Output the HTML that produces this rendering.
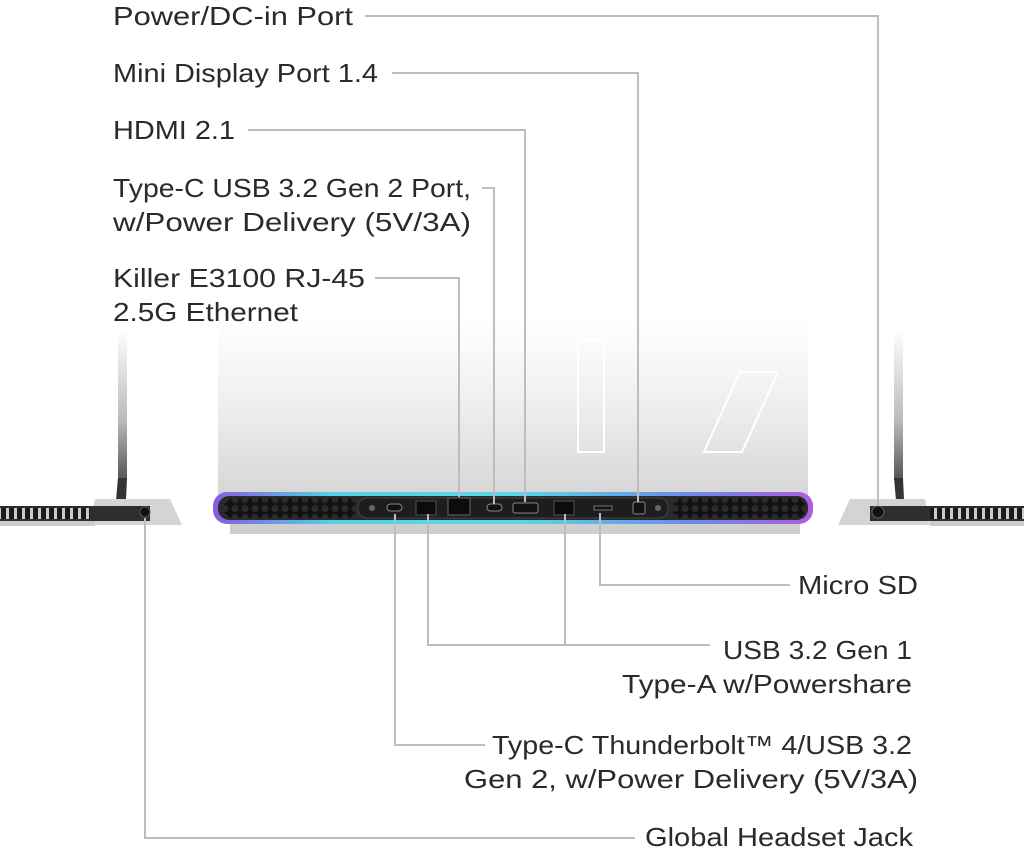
<!DOCTYPE html>
<html><head><meta charset="utf-8"><style>
html,body{margin:0;padding:0;background:#fff;width:1024px;height:849px;overflow:hidden}
svg{display:block}
text{font-family:"Liberation Sans",sans-serif;font-size:26px;fill:#2a2a2a}
</style></head><body>
<svg width="1024" height="849" viewBox="0 0 1024 849" xmlns="http://www.w3.org/2000/svg">
<defs>
<linearGradient id="lid" x1="0" y1="0" x2="0" y2="1">
<stop offset="0" stop-color="#fff"/><stop offset="0.5" stop-color="#eeeeee"/><stop offset="1" stop-color="#d6d6d6"/></linearGradient>
<linearGradient id="rim" x1="0" y1="0" x2="1" y2="0">
<stop offset="0" stop-color="#8a5be0"/><stop offset="0.2" stop-color="#4fd3e6"/><stop offset="0.5" stop-color="#5ad8e8"/><stop offset="0.8" stop-color="#6b8ae8"/><stop offset="1" stop-color="#b05ce0"/></linearGradient>
<linearGradient id="pole" x1="0" y1="0" x2="0" y2="1">
<stop offset="0" stop-color="#fff"/><stop offset="0.6" stop-color="#bbb"/><stop offset="1" stop-color="#555"/></linearGradient>
<pattern id="hex" width="10" height="9" patternUnits="userSpaceOnUse">
<rect width="10" height="9" fill="#111"/><circle cx="5" cy="4.5" r="3.6" fill="#2a2a2a"/></pattern>
<pattern id="slot" width="8" height="10" patternUnits="userSpaceOnUse">
<rect width="8" height="10" fill="#ccc"/><rect x="1" y="0" width="5" height="10" fill="#1a1a1a"/></pattern>
</defs>

<!-- lid -->
<rect x="218" y="318" width="590" height="178" fill="url(#lid)"/>
<polygon points="578,340 604,340 604,452 578,452" fill="none" stroke="#fff" stroke-width="2"/>
<polygon points="740,372 778,372 742,452 704,452" fill="none" stroke="#fff" stroke-width="2"/>
<!-- base bar -->
<rect x="213" y="492" width="600" height="32" rx="14" fill="url(#rim)"/>
<rect x="218" y="496" width="590" height="24" rx="11" fill="#2a2a2e"/>
<rect x="224" y="498" width="132" height="20" rx="8" fill="url(#hex)"/>
<rect x="673" y="498" width="132" height="20" rx="8" fill="url(#hex)"/>
<rect x="358" y="498" width="310" height="20" rx="9" fill="#1d1d20" stroke="#444" stroke-width="1"/>
<rect x="230" y="524" width="570" height="10" fill="#cfcfcf"/>
<!-- ports -->
<circle cx="372" cy="508" r="3" fill="#666"/>
<rect x="387" y="504" width="15" height="7" rx="3.5" fill="#111" stroke="#888"/>
<rect x="416" y="501" width="20" height="14" fill="#0c0c0c" stroke="#555"/>
<rect x="448" y="498" width="22" height="17" fill="#0c0c0c" stroke="#666"/>
<rect x="487" y="504" width="15" height="7" rx="3.5" fill="#111" stroke="#888"/>
<rect x="513" y="503" width="25" height="10" rx="2" fill="#111" stroke="#888"/>
<rect x="554" y="501" width="20" height="14" fill="#0c0c0c" stroke="#555"/>
<rect x="594" y="506" width="18" height="4" fill="#111" stroke="#777"/>
<rect x="633" y="502" width="12" height="12" rx="2" fill="#111" stroke="#888"/>
<circle cx="658" cy="508" r="3" fill="#666"/>

<!-- left side view -->
<rect x="118" y="330" width="9" height="150" fill="url(#pole)"/>
<polygon points="118,478 127,478 126,500 116,500" fill="#333"/>
<polygon points="95,499 170,499 182,525 90,525" fill="#d4d4d4"/>
<rect x="0" y="506" width="150" height="15" fill="#2e2e2e"/>
<rect x="0" y="508" width="90" height="11" fill="url(#slot)"/>
<rect x="0" y="521" width="95" height="5" fill="#ccc"/>
<circle cx="145" cy="512" r="5" fill="#111" stroke="#555"/>
<!-- right side view -->
<rect x="894" y="330" width="9" height="150" fill="url(#pole)"/>
<polygon points="894,478 903,478 904,500 896,500" fill="#333"/>
<polygon points="850,499 925,499 930,525 838,525" fill="#d4d4d4"/>
<rect x="870" y="506" width="154" height="15" fill="#2e2e2e"/>
<rect x="930" y="508" width="94" height="11" fill="url(#slot)"/>
<rect x="930" y="521" width="94" height="5" fill="#ccc"/>
<circle cx="878" cy="512" r="6" fill="#111" stroke="#666"/>

<!-- leader lines -->
<g fill="none" stroke="#bdbdbd" stroke-width="2">
<polyline points="365,16 878,16 878,506"/>
<polyline points="392,73 638,73 638,502"/>
<polyline points="248,130 525,130 525,502"/>
<polyline points="482,188 494,188 494,504"/>
<polyline points="375,278 459,278 459,497"/>
<polyline points="600,513 600,585 790,585"/>
<polyline points="428,514 428,645 710,645"/>
<polyline points="565,514 565,645"/>
<polyline points="395,514 395,745 485,745"/>
<polyline points="145,518 145,838 635,838"/>
</g>

<!-- labels -->
<text x="113" y="25" textLength="240" lengthAdjust="spacingAndGlyphs">Power/DC-in Port</text>
<text x="113" y="82" textLength="265" lengthAdjust="spacingAndGlyphs">Mini Display Port 1.4</text>
<text x="113" y="139" textLength="122" lengthAdjust="spacingAndGlyphs">HDMI 2.1</text>
<text x="113" y="197" textLength="358" lengthAdjust="spacingAndGlyphs">Type-C USB 3.2 Gen 2 Port,</text>
<text x="113" y="231" textLength="358" lengthAdjust="spacingAndGlyphs">w/Power Delivery (5V/3A)</text>
<text x="113" y="287" textLength="252" lengthAdjust="spacingAndGlyphs">Killer E3100 RJ-45</text>
<text x="113" y="321" textLength="185" lengthAdjust="spacingAndGlyphs">2.5G Ethernet</text>
<text x="798" y="594" textLength="120" lengthAdjust="spacingAndGlyphs">Micro SD</text>
<text x="723" y="659" textLength="189" lengthAdjust="spacingAndGlyphs">USB 3.2 Gen 1</text>
<text x="622" y="693" textLength="290" lengthAdjust="spacingAndGlyphs">Type-A w/Powershare</text>
<text x="492" y="754" textLength="420" lengthAdjust="spacingAndGlyphs">Type-C Thunderbolt™ 4/USB 3.2</text>
<text x="464" y="788" textLength="454" lengthAdjust="spacingAndGlyphs">Gen 2, w/Power Delivery (5V/3A)</text>
<text x="645" y="846" textLength="268" lengthAdjust="spacingAndGlyphs">Global Headset Jack</text>
</svg>
</body></html>
